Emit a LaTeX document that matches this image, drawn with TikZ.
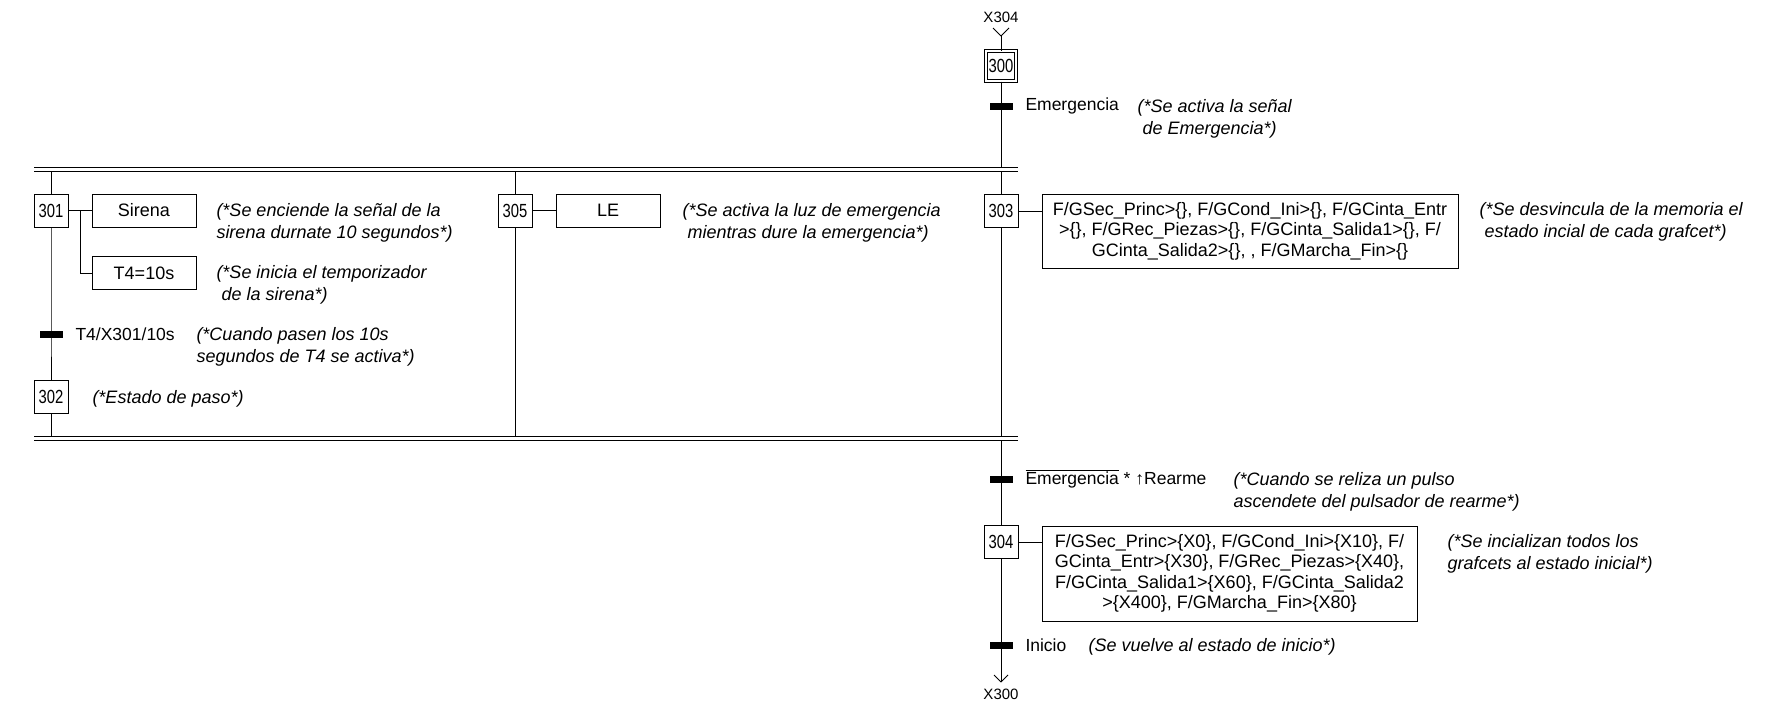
\documentclass[tikz,border=0pt]{standalone}
\usepackage{fontspec}
\setmainfont{Liberation Sans}
\newfontfamily\stepfont[FakeStretch=0.78]{Liberation Sans}
\usepackage{tikz}
\tikzstyle{every node}=[inner sep=0]
\tikzstyle{etapa}=[draw, minimum width=34, minimum height=33, font=\stepfont\fontsize{19}{19}\selectfont]
\tikzstyle{accion}=[draw, minimum width=104, minimum height=33, align=center, font=\fontsize{18}{20.5}\selectfont]
\tikzstyle{receptividad}=[fill, minimum width=23, minimum height=7]
\tikzstyle{etiqueta}=[anchor=west, font=\fontsize{17.5}{21}\selectfont]
\tikzstyle{nota}=[anchor=north west, align=left, font=\fontsize{18}{21.5}\selectfont\itshape]
\tikzstyle{enlace}=[font=\fontsize{15}{15}\selectfont]

\begin{document}
\begin{tikzpicture}[x=1pt, y=-1pt, line width=1pt]
\useasboundingbox (0,0) rectangle (1768,724);
% Steps
    \node[etapa, double, double distance=2.5pt, minimum width=30, minimum height=30] (s300) at (1001,66) {300};
    \node[etapa] (s301) at (51,210.5) {301};
    \node[etapa] (s302) at (51,397) {302};
    \node[etapa] (s305) at (515,210.5) {305};
    \node[etapa] (s303) at (1001,211) {303};
    \node[etapa] (s304) at (1001,542) {304};
% Actions
    \node[accion] (a301) at (144,210.5) {Sirena};
    \node[accion] (a301t) at (144,273) {T4=10s};
    \node[accion] (a305) at (608,210.5) {LE};
    \node[accion, minimum width=416, minimum height=74] (a303) at (1250,231) {F/GSec\_Princ>\{\}, F/GCond\_Ini>\{\}, F/GCinta\_Entr\\>\{\}, F/GRec\_Piezas>\{\}, F/GCinta\_Salida1>\{\}, F/\\GCinta\_Salida2>\{\}, , F/GMarcha\_Fin>\{\}};
    \node[accion, minimum width=375, minimum height=95] (a304) at (1229.5,573.5) {F/GSec\_Princ>\{X0\}, F/GCond\_Ini>\{X10\}, F/\\GCinta\_Entr>\{X30\}, F/GRec\_Piezas>\{X40\},\\F/GCinta\_Salida1>\{X60\}, F/GCinta\_Salida2\\>\{X400\}, F/GMarcha\_Fin>\{X80\}};
% Transitions
    \node[receptividad] (t300) at (1001,106) {};
    \node[receptividad] (t301) at (51,334) {};
    \node[receptividad] (t303) at (1001,479) {};
    \node[receptividad] (t304) at (1001,645) {};
% Links in and out
    \node[enlace] (x304) at (1001,17) {X304};
    \node[enlace] (x300) at (1001,694) {X300};
    \coordinate (in300) at (1001,36);
    \coordinate (out304) at (1001,682);
    \draw (in300) -- ++(-8,-8);
    \draw (in300) -- ++(8,-8);
    \draw (out304) -- ++(-7,-7);
    \draw (out304) -- ++(7,-7);
% Simultaneous divergence and convergence
    \draw (34,167.3) -- (1018,167.3);
    \draw (34,171.7) -- (1018,171.7);
    \draw (34,436) -- (1018,436);
    \draw (34,440.5) -- (1018,440.5);
    \coordinate (div) at (1001,167.3);
    \coordinate (b301) at (51,171.7);
    \coordinate (b305) at (515,171.7);
    \coordinate (b303) at (1001,171.7);
    \coordinate (e301) at (51,436);
    \coordinate (e305) at (515,436);
    \coordinate (e303) at (1001,436);
    \coordinate (con) at (1001,440.5);
% Flow lines
    \draw (in300) -- (s300);
    \draw (s300) -- (t300.center) -- (div);
    \draw (b301) -- (s301) -- (t301.center) -- (s302) -- (e301);
    \draw (b305) -- (s305) -- (e305);
    \draw (b303) -- (s303) -- (e303);
    \draw (con) -- (t303.center) -- (s304) -- (t304.center) -- (out304);
% Action links
    \coordinate (k301) at (80,210.5);
    \draw (s301) -- (a301);
    \draw (k301) |- (a301t);
    \draw (s305) -- (a305);
    \draw (s303.east) -- (s303.east -| a303.west);
    \draw (s304.east) -- (s304.east -| a304.west);
% Receptivities
    \node[etiqueta] (l300) at (1025,106) {Emergencia};
    \node[etiqueta] (l301) at (75,334) {T4/X301/10s};
    \node[etiqueta] (l303) at (1025,479) {$\overline{\mbox{Emergencia}}$ * ↑Rearme};
    \node[etiqueta] (l304) at (1025,645) {Inicio};
% Comments
    \node[nota] (c300) at (1137,99) {(*Se activa la señal\\\ de Emergencia*)};
    \node[nota] (c301) at (216,203) {(*Se enciende la señal de la\\sirena durnate 10 segundos*)};
    \node[nota] (c301t) at (216,265) {(*Se inicia el temporizador\\\ de la sirena*)};
    \node[nota] (ct301) at (196,327) {(*Cuando pasen los 10s\\segundos de T4 se activa*)};
    \node[nota] (c302) at (92,390) {(*Estado de paso*)};
    \node[nota] (c305) at (682,203) {(*Se activa la luz de emergencia\\\ mientras dure la emergencia*)};
    \node[nota] (c303) at (1479,202) {(*Se desvincula de la memoria el\\\ estado incial de cada grafcet*)};
    \node[nota] (ct303) at (1233,472) {(*Cuando se reliza un pulso\\ascendete del pulsador de rearme*)};
    \node[nota] (c304) at (1447,534) {(*Se incializan todos los\\grafcets al estado inicial*)};
    \node[nota] (ct304) at (1088,638) {(Se vuelve al estado de inicio*)};
\end{tikzpicture}
\end{document}
